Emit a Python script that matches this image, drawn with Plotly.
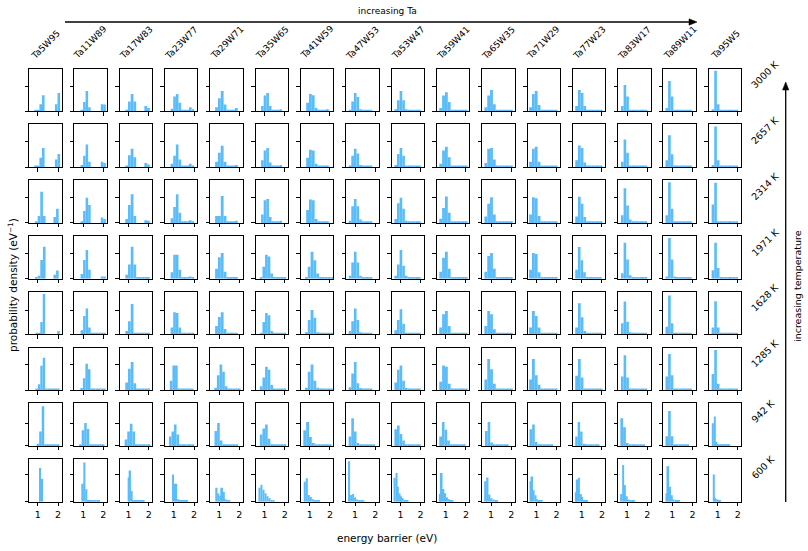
import plotly.graph_objects as go

# ---------------- data ----------------
compositions = ["Ta5W95", "Ta11W89", "Ta17W83", "Ta23W77", "Ta29W71", "Ta35W65",
                "Ta41W59", "Ta47W53", "Ta53W47", "Ta59W41", "Ta65W35", "Ta71W29",
                "Ta77W23", "Ta83W17", "Ta89W11", "Ta95W5"]
temperatures = ["3000 K", "2657 K", "2314 K", "1971 K", "1628 K", "1285 K", "942 K", "600 K"]
x_ticks = [1, 2]
x_range = [0.56, 2.17]
y_max = 10.0
y_tick_by_row = [5.9, 5.9, 5.9, 6.0, 5.5, 6.0, 5.3, 6.4]

t = 0.2  # tiny tail bins
# each histogram: (first bin edge in eV, bin width in eV, densities per bin)
hist_3000K = [
    (0.82, 0.128, [t, t, 1.7, 3.8, 0, 0, 0, 0, 1.7, 4.3]),
    (0.87, 0.125, [t, 2.2, 4.8, 1.0, 0, 0, 0, 0, 1.7, 1.6]),
    (0.84, 0.135, [0.3, 2.3, 4.1, 2.3, 0, 0, 0, 1.25, 0.8]),
    (0.84, 0.13, [0.6, 3.5, 4.1, 2.0, t, t, 0.3, 1.0, 0.5]),
    (0.80, 0.14, [1.0, 3.1, 4.8, 1.6, t, t, 0.4, 0.8]),
    (0.83, 0.13, [1.25, 3.7, 4.3, 1.25, t, t, 0.3, 0.5]),
    (0.82, 0.14, [2.0, 4.1, 3.8, 0.8, t, t, 0.4, 0.5]),
    (0.68, 0.13, [t, 2.3, 4.3, 3.4, 0.5, t, t, 0.3, 0.3]),
    (0.70, 0.13, [0.5, 2.6, 4.8, 2.6, 0.5, t, t, t, t, t]),
    (0.68, 0.14, [0.8, 3.7, 4.5, 2.2, t, t, t, t, t, t]),
    (0.67, 0.14, [1.0, 3.7, 5.0, 1.7, t, t, t, t, t, t]),
    (0.64, 0.14, [1.0, 4.1, 4.8, 1.5, t, t, t, t, t, t]),
    (0.68, 0.135, [1.25, 5.0, 4.3, 1.25, t, t, t, t, t, t]),
    (0.70, 0.13, [1.25, 6.2, 3.5, t, t, t, t, t, t, t]),
    (0.66, 0.13, [0.8, 7.1, 3.5, t, t, t, t, t, t, t]),
    (0.70, 0.13, [0.5, 9.5, 1.7, t, t, t, t, t, t, t]),
]
hist_2657K = [
    (0.82, 0.128, [t, t, 2.2, 4.5, 0, 0, 0, 0, 1.8, 3.1]),
    (0.87, 0.125, [0.5, 2.7, 5.3, 1.25, 0, 0, 0, 0, 1.25, 1.0]),
    (0.84, 0.135, [t, 2.8, 4.3, 2.3, 0, 0, 0, 1.0, 0.6]),
    (0.84, 0.13, [0.8, 2.7, 5.3, 1.8, t, t, 0.3, 0.8, t]),
    (0.80, 0.14, [1.25, 3.4, 5.0, 1.25, t, t, t, 0.5]),
    (0.83, 0.13, [1.6, 3.9, 4.5, 1.1, t, t, 0.3, 0.5]),
    (0.82, 0.14, [2.2, 4.1, 3.9, 0.8, t, t, t, t]),
    (0.68, 0.13, [t, 2.7, 4.3, 3.2, 0.5, t, t, t, t]),
    (0.70, 0.13, [0.5, 3.1, 4.5, 2.7, t, t, t, t, t, t]),
    (0.68, 0.14, [0.8, 3.9, 4.8, 2.3, t, t, t, t, t, t]),
    (0.67, 0.14, [1.0, 4.3, 4.5, 1.8, t, t, t, t, t, t]),
    (0.64, 0.14, [1.25, 4.3, 4.8, 1.25, t, t, t, t, t, t]),
    (0.68, 0.135, [1.6, 5.1, 4.5, 1.1, t, t, t, t, t, t]),
    (0.70, 0.13, [1.25, 6.5, 3.4, t, t, t, t, t, t, t]),
    (0.66, 0.13, [1.6, 7.5, 3.0, t, t, t, t, t, t, t]),
    (0.70, 0.13, [0.5, 9.5, 1.6, t, t, t, t, t, t, t]),
]
hist_2314K = [
    (0.86, 0.13, [t, 1.6, 7.3, 1.6, 0, 0, 0, 1.4, 3.3]),
    (0.87, 0.125, [0.4, 2.8, 5.9, 4.2, 0, 0, 0, 0, 1.25, 0.9]),
    (0.84, 0.135, [0.9, 4.2, 6.7, 1.6, 0, 0, 0, 0.6, 0.5]),
    (0.84, 0.13, [1.1, 3.7, 6.7, 2.4, t, t, t, 0.6, t]),
    (0.80, 0.14, [1.6, 1.6, 6.3, 1.6, t, t, t, 0.5]),
    (0.83, 0.13, [2.0, 5.3, 5.6, 1.4, t, t, t, 0.5]),
    (0.82, 0.14, [3.0, 5.5, 5.3, 0.9, t, t, t, t]),
    (0.68, 0.13, [0.5, 3.9, 5.6, 3.9, 0.8, t, t, t, t]),
    (0.70, 0.13, [0.9, 4.6, 5.9, 3.3, 0.5, t, t, t, t, t]),
    (0.68, 0.14, [1.0, 3.5, 6.2, 2.4, 0.3, t, t, t, t, t]),
    (0.67, 0.14, [1.5, 4.5, 6.0, 2.0, t, t, t, t, t, t]),
    (0.64, 0.14, [2.0, 6.0, 5.8, 1.6, t, t, t, t, t, t]),
    (0.68, 0.135, [1.5, 6.1, 4.5, 1.4, 0.3, t, t, t, t, t]),
    (0.70, 0.13, [1.8, 8.1, 4.1, 0.8, t, t, t, t, t, t]),
    (0.66, 0.13, [1.8, 9.5, 3.3, 0.4, t, t, t, t, t, t]),
    (0.70, 0.13, [4.3, 9.4, 0.3, t, t, t, t, t, t, t]),
]
hist_1971K = [
    (0.86, 0.13, [t, 0.7, 4.4, 7.5, 0, 0, 0, 0.9, 1.9]),
    (0.87, 0.125, [1.1, 4.4, 6.7, 2.1, 0, 0, 0, 0, 0.5, 0.5]),
    (0.84, 0.135, [0.9, 3.3, 7.5, 3.3, t, t, t, 0.4, 0.4]),
    (0.84, 0.13, [1.5, 5.6, 5.6, 2.1, t, t, t, 0.5, t]),
    (0.80, 0.14, [2.3, 5.0, 6.0, 1.6, t, t, t, t]),
    (0.77, 0.13, [0.4, 2.8, 5.6, 5.2, 1.2, t, t, t, t, t]),
    (0.76, 0.14, [0.4, 2.8, 6.3, 4.3, 1.2, t, t, t, t, t]),
    (0.68, 0.13, [0.7, 3.8, 6.3, 3.8, 0.7, t, t, t, t]),
    (0.70, 0.13, [0.7, 3.3, 6.7, 3.0, 0.7, t, t, t, t, t]),
    (0.68, 0.14, [1.6, 4.9, 6.3, 2.3, 0.3, t, t, t, t, t]),
    (0.67, 0.14, [1.6, 5.3, 6.0, 2.3, t, t, t, t, t, t]),
    (0.64, 0.14, [2.1, 6.0, 5.8, 1.5, t, t, t, t, t, t]),
    (0.68, 0.13, [2.1, 7.4, 4.3, 1.5, t, t, t, t, t, t]),
    (0.70, 0.13, [1.3, 8.4, 4.5, 0.8, t, t, t, t, 0.3, t]),
    (0.66, 0.13, [0.5, 9.5, 4.5, 0.5, t, t, t, t, t, t]),
    (0.70, 0.13, [2.0, 8.4, 2.5, t, t, t, t, t, t, t]),
]
hist_1628K = [
    (0.88, 0.12, [t, 0.4, 2.9, 9.5, 0, 0, 0, 0, 0, 0.8]),
    (0.87, 0.125, [1.0, 4.3, 6.1, 1.6, t, t, t, t, t, t]),
    (0.84, 0.135, [0.8, 3.1, 7.1, t, t, t, t, t, t]),
    (0.84, 0.13, [1.6, 5.2, 5.0, 1.6, t, t, t, t, t]),
    (0.80, 0.14, [2.0, 4.1, 5.2, 1.3, t, t, t, t]),
    (0.77, 0.13, [t, 2.9, 5.0, 4.5, 0.8, t, t, t, t, t]),
    (0.76, 0.14, [0.5, 3.4, 5.7, 3.9, 0.5, t, t, t, t, t]),
    (0.68, 0.13, [0.8, 3.1, 6.1, 3.4, 0.5, t, t, t, t]),
    (0.70, 0.13, [1.0, 3.4, 5.9, 2.5, 0.3, t, t, t, t, t]),
    (0.68, 0.14, [1.6, 4.7, 5.5, 2.0, 0.3, t, t, t, t, t]),
    (0.67, 0.14, [2.0, 5.5, 4.7, 1.2, t, t, t, t, t, t]),
    (0.64, 0.14, [1.6, 5.5, 4.3, 1.6, t, t, t, t, t, t]),
    (0.68, 0.135, [1.6, 7.3, 4.0, 0.8, t, t, t, t, t, t]),
    (0.70, 0.13, [2.6, 7.7, 3.0, 0.5, t, t, t, t, t, t]),
    (0.66, 0.13, [1.8, 9.1, 2.6, t, t, t, t, t, t, t]),
    (0.70, 0.13, [1.6, 7.8, 1.6, t, t, t, t, t, t, t]),
]
hist_1285K = [
    (0.88, 0.12, [t, 1.4, 5.7, 7.6, t, t, t, t, t, t]),
    (0.86, 0.125, [0.5, 2.8, 6.2, 4.9, t, t, t, t, t, t]),
    (0.84, 0.135, [1.8, 5.0, 6.6, 1.6, t, t, t, t, t]),
    (0.80, 0.13, [2.2, 5.8, 5.8, 0.3, t, t, t, t, t]),
    (0.76, 0.13, [0.6, 3.5, 6.0, 4.3, 0.9, t, t, t, t, t]),
    (0.77, 0.13, [0.9, 3.0, 5.5, 4.8, 1.2, t, t, t, t, t]),
    (0.76, 0.14, [0.6, 4.3, 6.0, 2.2, 0.6, t, t, t, t, t]),
    (0.68, 0.13, [0.7, 3.9, 6.6, 1.6, 0.5, t, t, t, t]),
    (0.70, 0.13, [1.8, 4.8, 5.8, 2.2, 0.5, t, t, t, t, t]),
    (0.68, 0.14, [2.0, 5.8, 5.5, 1.5, t, t, t, t, t, t]),
    (0.67, 0.14, [2.5, 7.3, 4.9, 1.5, t, t, t, t, t, t]),
    (0.64, 0.14, [2.5, 7.3, 3.5, 1.3, t, t, t, t, t, t]),
    (0.68, 0.135, [3.4, 7.3, 3.0, 0.3, t, t, t, t, t, t]),
    (0.70, 0.13, [3.2, 8.2, 3.0, 0.3, t, t, t, t, t, t]),
    (0.66, 0.13, [3.2, 8.5, 3.5, 0.3, t, t, t, t, t, t]),
    (0.70, 0.13, [3.8, 9.4, 1.5, t, t, t, t, t, t, t]),
]
hist_942K = [
    (0.94, 0.125, [0.5, 3.4, 9.3, t, t, t, t, t, t]),
    (0.80, 0.125, [0.3, 3.7, 5.4, 4.0, t, t, t, t, t, t]),
    (0.81, 0.128, [1.5, 3.4, 5.2, 3.4, t, t, t, t, t, t]),
    (0.76, 0.124, [2.2, 3.4, 5.0, 2.7, 0.4, t, t, t, t, t]),
    (0.77, 0.13, [3.5, 5.4, 1.3, t, t, t, t, t, t]),
    (0.77, 0.13, [2.7, 4.1, 5.0, 1.7, 0.4, t, t, t, t, t]),
    (0.68, 0.14, [3.7, 5.6, 2.1, 0.7, t, t, t, t, t, t]),
    (0.68, 0.13, [2.2, 6.5, 3.4, 0.7, t, t, t, t, t, t]),
    (0.70, 0.13, [3.9, 4.8, 2.8, 1.3, t, t, t, t, t, t]),
    (0.68, 0.13, [2.2, 5.6, 3.8, 1.3, t, t, t, t, t, t]),
    (0.70, 0.13, [3.5, 5.6, 0.8, t, t, t, t, t, t]),
    (0.66, 0.13, [3.9, 5.0, 0.9, t, t, t, t, t, t]),
    (0.68, 0.12, [2.2, 5.6, 3.4, 0.5, t, t, t, t, t, t]),
    (0.67, 0.135, [6.5, 4.4, 0.7, t, t, t, t, t, t]),
    (0.66, 0.13, [2.3, 8.2, 2.3, t, t, t, t, t, t]),
    (0.72, 0.09, [5.3, 6.9, 1.0, t, t, t, t, t, t, t]),
]
hist_600K = [
    (1.09, 0.04, [7.9, 0, 5.4]),
    (0.93, 0.09, [4.2, 9.2, 2.9, t, t, t, t, t, t, t]),
    (0.97, 0.075, [5.7, 7.3, 2.5, t, t, t, t, t, t, t, t]),
    (0.93, 0.077, [6.4, 4.2, 4.2, 0.6, t, t, t, t, t, t]),
    (0.83, 0.09, [3.3, 1.9, 1.4, 3.3, 2.3, 0.6, t, t]),
    (0.70, 0.10, [3.3, 4.0, 2.8, 2.0, 1.3, 0.8, 0.3, t]),
    (0.70, 0.10, [4.7, 5.5, 1.6, 1.1, 0.6, t, t, t]),
    (0.65, 0.10, [9.5, 1.6, 1.8, 1.0, 0.5, t, t, t]),
    (0.68, 0.08, [5.6, 6.7, 3.5, 1.9, 1.3, 0.8, 0.3, t, t]),
    (0.66, 0.09, [1.8, 6.7, 3.0, 2.0, 1.0, 0.6, 0.3, t]),
    (0.68, 0.095, [4.8, 5.7, 1.7, 0.8, 0.5, t, t]),
    (0.67, 0.08, [4.8, 5.9, 2.7, 1.5, 0.6, 0.3, t, t]),
    (0.67, 0.08, [2.2, 5.2, 5.6, 1.8, 1.1, 0.3, t, t]),
    (0.67, 0.09, [1.8, 8.6, 3.9, 1.3, 0.5, 0.3, t, t]),
    (0.66, 0.09, [2.0, 8.3, 3.5, 1.5, 0.5, t, t, t]),
    (0.77, 0.065, [6.4, 1.0, 0.6, 0.5, 0.3, t]),
]
rows = [hist_3000K, hist_2657K, hist_2314K, hist_1971K,
        hist_1628K, hist_1285K, hist_942K, hist_600K]

# ---------------- styling / layout ----------------
W, H = 808, 551
BAR = "#5abcf9"
FONT = "DejaVu Sans"
PX_LEFT0, PX_DX, PX_W = 29.0, 45.32, 32.5
PX_TOP0, PX_DY, PX_H = 68.7, 55.76, 42.7


def px(xp, yp):
    return xp / W, 1 - yp / H


fig = go.Figure()
layout = {}
annotations = []
shapes = []
n_cols = len(compositions)
for r, row in enumerate(rows):
    for c, (start, width, heights) in enumerate(row):
        k = r * n_cols + c + 1
        sfx = "" if k == 1 else str(k)
        centers = [start + width * (i + 0.5) for i in range(len(heights))]
        fig.add_trace(go.Bar(
            x=centers, y=heights, width=[width] * len(heights),
            marker=dict(color=BAR, line=dict(width=0)),
            xaxis="x" + sfx, yaxis="y" + sfx, hoverinfo="skip", showlegend=False))
        left = PX_LEFT0 + PX_DX * c
        top = PX_TOP0 + PX_DY * r
        layout["xaxis" + sfx] = dict(
            domain=[left / W, (left + PX_W) / W], range=x_range, anchor="y" + sfx,
            tickvals=x_ticks, ticks="outside", ticklen=3.5, tickwidth=1, tickcolor="black",
            showticklabels=(r == len(rows) - 1), tickfont=dict(family=FONT, size=9.5, color="black"),
            showline=True, mirror=True, linecolor="black", linewidth=1,
            showgrid=False, zeroline=False, fixedrange=True)
        layout["yaxis" + sfx] = dict(
            domain=[1 - (top + PX_H) / H, 1 - top / H], range=[0, y_max], anchor="x" + sfx,
            tickvals=[0, y_tick_by_row[r]], ticks="outside", ticklen=3.5, tickwidth=1,
            tickcolor="black", showticklabels=False,
            showline=True, mirror=True, linecolor="black", linewidth=1,
            showgrid=False, zeroline=False, fixedrange=True)

# column titles
for c, name in enumerate(compositions):
    cx = PX_LEFT0 + PX_DX * c + PX_W / 2
    annotations.append(dict(text=name, x=cx / W, y=1 - 64 / H, xref="paper", yref="paper",
                            xanchor="center", yanchor="bottom", textangle=-45, showarrow=False,
                            font=dict(family=FONT, size=9, color="black")))
# row labels
for r, temp in enumerate(temperatures):
    cy = PX_TOP0 + PX_DY * r + PX_H / 2 + 3.5
    annotations.append(dict(text=temp, x=746 / W, y=1 - cy / H, xref="paper", yref="paper",
                            xanchor="left", yanchor="bottom", textangle=-45, showarrow=False,
                            font=dict(family=FONT, size=9.5, color="black")))

# arrows drawn as a line plus a filled triangular head
x0, y0 = px(65, 22)
x1, y1 = px(690, 22)
shapes.append(dict(type="line", xref="paper", yref="paper", x0=x0, y0=y0, x1=x1, y1=y1,
                   line=dict(color="black", width=1.3)))
a, b = px(697, 22)
p1 = px(689, 18.8)
p2 = px(689, 25.2)
shapes.append(dict(type="path", xref="paper", yref="paper",
                   path=f"M {a} {b} L {p1[0]} {p1[1]} L {p2[0]} {p2[1]} Z",
                   fillcolor="black", line=dict(color="black", width=0.5)))
x0, y0 = px(785.7, 502)
x1, y1 = px(785.7, 89)
shapes.append(dict(type="line", xref="paper", yref="paper", x0=x0, y0=y0, x1=x1, y1=y1,
                   line=dict(color="black", width=1.3)))
a, b = px(785.7, 82)
p1 = px(782.5, 90)
p2 = px(788.9, 90)
shapes.append(dict(type="path", xref="paper", yref="paper",
                   path=f"M {a} {b} L {p1[0]} {p1[1]} L {p2[0]} {p2[1]} Z",
                   fillcolor="black", line=dict(color="black", width=0.5)))

annotations.append(dict(text="increasing Ta", x=387 / W, y=1 - 10.7 / H, xref="paper", yref="paper",
                        xanchor="center", yanchor="middle", showarrow=False,
                        font=dict(family=FONT, size=9, color="black")))
annotations.append(dict(text="increasing temperature", x=797 / W, y=1 - 286 / H, xref="paper",
                        yref="paper", xanchor="center", yanchor="middle", textangle=-90,
                        showarrow=False, font=dict(family=FONT, size=9.5, color="black")))
annotations.append(dict(text="probability density (eV<sup>−1</sup>)", x=12 / W, y=1 - 285 / H,
                        xref="paper", yref="paper", xanchor="center", yanchor="middle",
                        textangle=-90, showarrow=False,
                        font=dict(family=FONT, size=10.5, color="black")))
annotations.append(dict(text="energy barrier (eV)", x=387 / W, y=1 - 538 / H, xref="paper",
                        yref="paper", xanchor="center", yanchor="middle", showarrow=False,
                        font=dict(family=FONT, size=10.5, color="black")))

fig.update_layout(width=W, height=H, margin=dict(l=0, r=0, t=0, b=0),
                  paper_bgcolor="white", plot_bgcolor="white", showlegend=False,
                  barmode="overlay", annotations=annotations, shapes=shapes,
                  font=dict(family=FONT), **layout)
fig.write_html("out.html")
